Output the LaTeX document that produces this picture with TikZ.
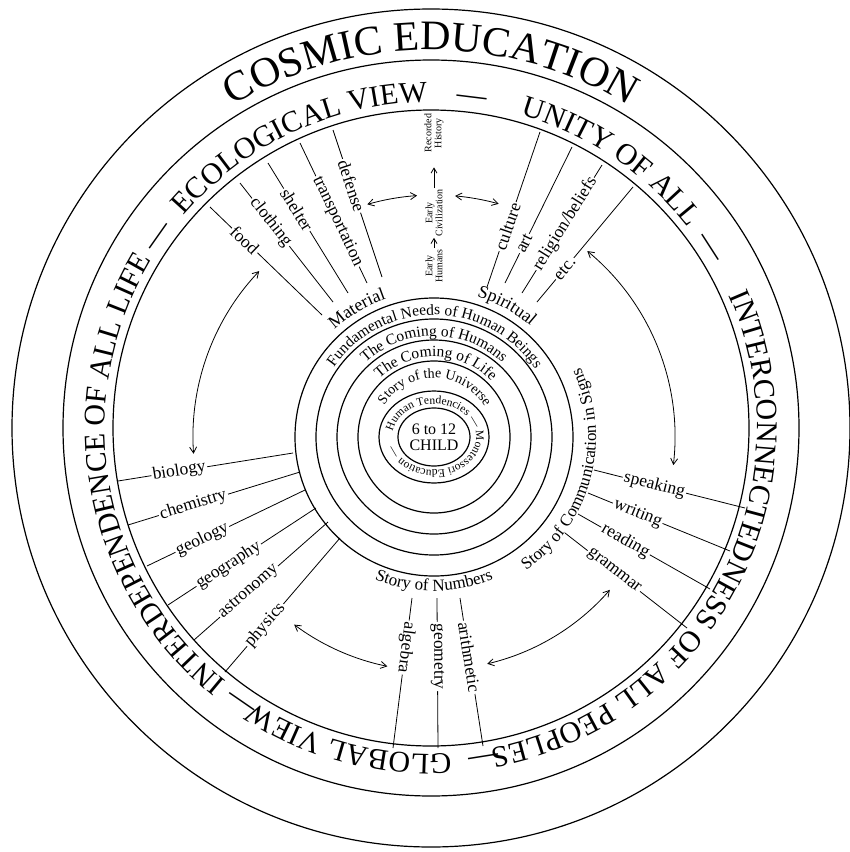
\documentclass[tikz,border=0pt]{standalone}
\usepackage{fontspec}
\setmainfont{Liberation Serif}
\usetikzlibrary{arrows.meta,decorations.text}

\newcommand\fsz[1]{\fontsize{#1}{#1}\selectfont}
% text set round an arc: x radius, y radius, from, to, size, text
\newcommand\arctext[6]{%
  \path[decorate,decoration={text along path,text align=center,
      text={|\fsz{#5}|#6}}]
    (#3:#1pt and #2pt) arc[start angle=#3,end angle=#4,x radius=#1pt,y radius=#2pt];}

\tikzset{
  ring/.style={line width=1.2pt},
  spoke/.style={line width=0.8pt},
  lbl/.style={fill=white,inner sep=1.5pt,font=\fsz{17.5}},
  era/.style={font=\fsz{10},align=center,rotate=90,inner sep=1pt},
  both ways/.style={line width=0.8pt,{Straight Barb[length=6pt,width=7pt]}-{Straight Barb[length=6pt,width=7pt]}},
  one way/.style={line width=0.8pt,-{Straight Barb[length=5pt,width=6pt]}},
}

\begin{document}
\begin{tikzpicture}[x=1pt,y=1pt]
\useasboundingbox (0,0) rectangle (850,-852);

% centres of the outer and the inner rings
\coordinate (O) at (431,-428);
\coordinate (I) at (434,-437);

% Outer rings
\draw[ring] (O) circle[radius=419];
\draw[ring] (O) circle[radius=368];
\draw[ring] (O) circle[radius=318];

% Inner rings
\draw[ring] (I) ellipse[x radius=36,y radius=29];
\draw[ring] (I) ellipse[x radius=55,y radius=46];
\draw[ring] (I) circle[radius=76];
\draw[ring] (I) circle[radius=97];
\draw[ring] (I) circle[radius=118];
\draw[ring] (I) circle[radius=139];

% Lettering of the outer band
\begin{scope}[shift={(O)}]
\arctext{378}{378}{140}{40}{42}{COSMIC EDUCATION}
\arctext{326}{326}{160}{70}{30}{ECOLOGICAL VIEW}
\arctext{326}{326}{93}{73}{30}{—}
\arctext{326}{326}{91}{21}{30}{UNITY OF ALL}
\arctext{326}{326}{42.8}{22.8}{30}{—}
\arctext{326}{326}{35}{-90.6}{30}{INTERCONNECTEDNESS OF ALL PEOPLES}
\arctext{326}{326}{-71}{-91}{30}{—}
\arctext{326}{326}{-64.7}{-144.7}{30}{GLOBAL VIEW}
\arctext{326}{326}{-114.6}{-134.6}{30}{—}
\arctext{326}{326}{245}{135}{30}{INTERDEPENDENCE OF ALL LIFE}
\arctext{326}{326}{154.8}{134.8}{30}{—}
\end{scope}

% Lettering of the inner rings
\begin{scope}[shift={(I)}]
\arctext{122}{122}{175}{4}{15.5}{Fundamental Needs of Human Beings}
\arctext{101}{101}{170}{10}{15.5}{The Coming of Humans}
\arctext{80}{80}{168.5}{8.5}{15.5}{The Coming of Life}
\arctext{59}{59}{169}{9}{14}{Story of the Universe}
\path[decorate,decoration={text along path,text align=left,
    text={|\fsz{11.5}|Human Tendencies — Montessori Education —}}]
  (170:42pt and 33pt) arc[start angle=170,end angle=-190,x radius=42pt,y radius=33pt];
\arctext{146}{146}{161}{81}{18}{Material}
\arctext{147}{147}{101}{21}{18}{Spiritual}
\arctext{154}{154}{-135}{-45}{17}{Story of Numbers}
\arctext{162}{162}{-80}{50}{17}{Story of Communication in Signs}
\end{scope}

\node[font=\fsz{16},align=center] (child) at (I) {6 to 12\\CHILD};

% Material needs
\coordinate (food-o) at (210,-207); \coordinate (food-i) at (322,-315);
\coordinate (clothing-o) at (240,-183); \coordinate (clothing-i) at (333,-302);
\coordinate (shelter-o) at (268,-163); \coordinate (shelter-i) at (348,-293);
\coordinate (transport-o) at (300,-143); \coordinate (transport-i) at (367,-283);
\coordinate (defense-o) at (333,-130); \coordinate (defense-i) at (382,-277);
\draw[spoke] (food-o) -- node[lbl,sloped,pos=.31] (food) {food} (food-i);
\draw[spoke] (clothing-o) -- node[lbl,sloped,pos=.33] (clothing) {clothing} (clothing-i);
\draw[spoke] (shelter-o) -- node[lbl,sloped,pos=.36] (shelter) {shelter} (shelter-i);
\draw[spoke] (transport-o) -- node[lbl,sloped,pos=.56] (transport) {transportation} (transport-i);
\draw[spoke] (defense-o) -- node[lbl,sloped,pos=.38] (defense) {defense} (defense-i);

% Spiritual needs
\coordinate (culture-i) at (487,-287); \coordinate (culture-o) at (540,-132);
\coordinate (art-i) at (505,-283); \coordinate (art-o) at (572,-147);
\coordinate (religion-i) at (522,-293); \coordinate (religion-o) at (602,-165);
\coordinate (etc-i) at (537,-302); \coordinate (etc-o) at (633,-187);
\draw[spoke] (culture-i) -- node[lbl,sloped,pos=.39] (culture) {culture} (culture-o);
\draw[spoke] (art-i) -- node[lbl,sloped,pos=.29] (art) {art} (art-o);
\draw[spoke] (religion-i) -- node[lbl,sloped,pos=.54] (religion) {religion/beliefs} (religion-o);
\draw[spoke] (etc-i) -- node[lbl,sloped,pos=.29] (etc) {etc.} (etc-o);

% Communication
\coordinate (speaking-i) at (594,-470); \coordinate (speaking-o) at (745,-508);
\coordinate (writing-i) at (588,-493); \coordinate (writing-o) at (730,-551);
\coordinate (reading-i) at (578,-514); \coordinate (reading-o) at (710,-589);
\coordinate (grammar-i) at (565,-533); \coordinate (grammar-o) at (687,-628);
\draw[spoke] (speaking-i) -- node[lbl,sloped,pos=.40] (speaking) {speaking} (speaking-o);
\draw[spoke] (writing-i) -- node[lbl,sloped,pos=.35] (writing) {writing} (writing-o);
\draw[spoke] (reading-i) -- node[lbl,sloped,pos=.36] (reading) {reading} (reading-o);
\draw[spoke] (grammar-i) -- node[lbl,sloped,pos=.40] (grammar) {grammar} (grammar-o);

% Numbers
\coordinate (algebra-i) at (412,-598); \coordinate (algebra-o) at (393,-748);
\coordinate (geometry-i) at (437,-598); \coordinate (geometry-o) at (438,-748);
\coordinate (arith-i) at (460,-598); \coordinate (arith-o) at (483,-746);
\draw[spoke] (algebra-i) -- node[lbl,sloped,allow upside down,pos=.33] (algebra) {algebra} (algebra-o);
\draw[spoke] (geometry-i) -- node[lbl,sloped,allow upside down,pos=.39] (geometry) {geometry} (geometry-o);
\draw[spoke] (arith-i) -- node[lbl,sloped,allow upside down,pos=.40] (arith) {arithmetic} (arith-o);

% Sciences
\coordinate (biology-o) at (118,-481); \coordinate (biology-i) at (293,-453);
\coordinate (chemistry-o) at (128,-525); \coordinate (chemistry-i) at (300,-472);
\coordinate (geology-o) at (147,-566); \coordinate (geology-i) at (305,-490);
\coordinate (geography-o) at (168,-605); \coordinate (geography-i) at (316,-508);
\coordinate (astronomy-o) at (194,-640); \coordinate (astronomy-i) at (328,-522);
\coordinate (physics-o) at (225,-672); \coordinate (physics-i) at (340,-538);
\draw[spoke] (biology-o) -- node[lbl,sloped,pos=.35] (biology) {biology} (biology-i);
\draw[spoke] (chemistry-o) -- node[lbl,sloped,pos=.38] (chemistry) {chemistry} (chemistry-i);
\draw[spoke] (geology-o) -- node[lbl,sloped,pos=.35] (geology) {geology} (geology-i);
\draw[spoke] (geography-o) -- node[lbl,sloped,pos=.41] (geography) {geography} (geography-i);
\draw[spoke] (astronomy-o) -- node[lbl,sloped,pos=.41] (astronomy) {astronomy} (astronomy-i);
\draw[spoke] (physics-o) -- node[lbl,sloped,pos=.35] (physics) {physics} (physics-i);

% History column
\node[era] (humans) at (434,-266) {Early\\Humans};
\node[era] (civ) at (434,-213) {Early\\Civilization};
\node[era] (history) at (434,-133) {Recorded\\History};
\draw[one way] (humans.east) -- (civ.west);
\draw[one way,shorten >=14pt] (civ.east) -- (history.west);
\draw[both ways] ([shift={(106:242)}]I) arc[start angle=106,end angle=94,radius=242];
\draw[both ways] ([shift={(85:242)}]I) arc[start angle=85,end angle=74.5,radius=242];

% Links between the fields
\draw[both ways] ([shift={(136.5:241)}]I) arc[start angle=136.5,end angle=184,radius=241];
\draw[both ways] ([shift={(50.5:241)}]I) arc[start angle=50.5,end angle=-6.7,radius=241];
\draw[both ways] ([shift={(233.3:234)}]I) arc[start angle=233.3,end angle=258.5,radius=234];
\draw[both ways] ([shift={(-41:233)}]I) arc[start angle=-41,end angle=-76.8,radius=233];

\end{tikzpicture}
\end{document}
